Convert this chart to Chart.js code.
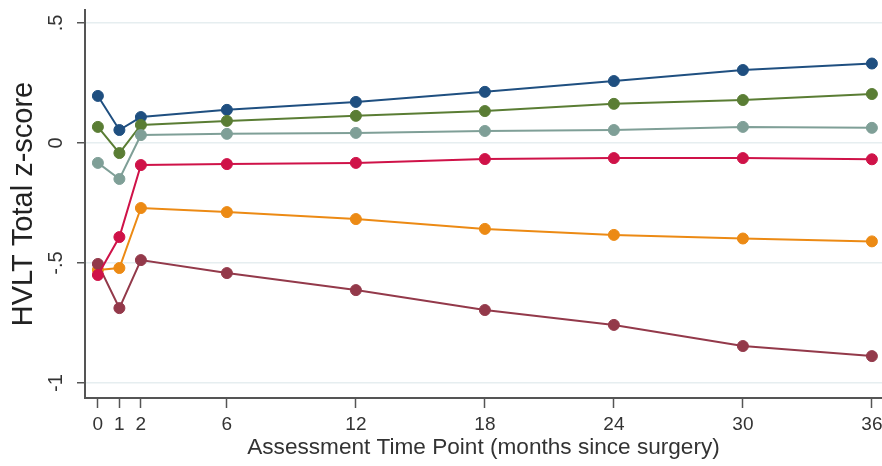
<!DOCTYPE html>
<html>
<head>
<meta charset="utf-8">
<script src="https://cdn.jsdelivr.net/npm/chart.js@4"></script>
<style>
  html, body { margin: 0; padding: 0; background: #fff; }
  #wrap { width: 882px; height: 466px; }
</style>
</head>
<body>
<div id="wrap"><canvas id="chart"></canvas></div>
<script>
// months since surgery
const months = [0, 1, 2, 6, 12, 18, 24, 30, 36];
const xTicks = [0, 1, 2, 6, 12, 18, 24, 30, 36];
const yTicks = [-1, -0.5, 0, 0.5];
const yTickLabels = ["-1", "-.5", "0", ".5"];

// HVLT z-score per group
const seriesBlue   = [0.196, 0.054, 0.108, 0.138, 0.171, 0.213, 0.258, 0.304, 0.331];
const seriesGreen  = [0.067, -0.042, 0.075, 0.092, 0.113, 0.133, 0.163, 0.179, 0.204];
const seriesTeal   = [-0.083, -0.150, 0.033, 0.038, 0.042, 0.050, 0.054, 0.067, 0.063];
const seriesRed    = [-0.550, -0.392, -0.092, -0.088, -0.083, -0.067, -0.063, -0.063, -0.068];
const seriesOrange = [-0.529, -0.521, -0.271, -0.288, -0.317, -0.358, -0.383, -0.398, -0.410];
const seriesMaroon = [-0.504, -0.688, -0.488, -0.542, -0.613, -0.696, -0.758, -0.846, -0.888];

const font = "'Liberation Sans', Arial, sans-serif";
const axisColor = "#555555";
const textColor = "#333333";

function makeSet(values, color) {
    return {
        data: months.map((m, i) => ({ x: m, y: values[i] })),
        borderColor: color,
        backgroundColor: color,
        borderWidth: 2,
        pointRadius: 5.5,
        pointHoverRadius: 5.5,
        pointBorderWidth: 1
    };
}

// tick labels drawn by hand: Stata rotates the y ones
const tickLabelPlugin = {
    id: "tickLabels",
    afterDraw(chart) {
        const ctx = chart.ctx;
        const y = chart.scales.y;
        const x = chart.scales.x;
        ctx.save();
        ctx.fillStyle = textColor;
        ctx.textAlign = "center";
        ctx.textBaseline = "middle";

        ctx.font = "20px " + font;
        yTicks.forEach((v, i) => {
            ctx.save();
            ctx.translate(56, y.getPixelForValue(v));
            ctx.rotate(-Math.PI / 2);
            ctx.fillText(yTickLabels[i], 0, 0);
            ctx.restore();
        });

        ctx.font = "19px " + font;
        xTicks.forEach(v => {
            ctx.fillText(String(v), x.getPixelForValue(v), 425);
        });
        ctx.restore();
    }
};

new Chart(document.getElementById("chart"), {
    type: "line",
    data: {
        datasets: [
            makeSet(seriesRed, "#cf1248"),
            makeSet(seriesMaroon, "#93394a"),
            makeSet(seriesOrange, "#ec8a14"),
            makeSet(seriesTeal, "#7f9f97"),
            makeSet(seriesGreen, "#5a7d34"),
            makeSet(seriesBlue, "#1f4f80")
        ]
    },
    options: {
        responsive: true,
        maintainAspectRatio: false,
        animation: false,
        clip: false,
        layout: { autoPadding: false, padding: { top: 10, right: 0, left: 0, bottom: 0 } },
        plugins: {
            legend: { display: false },
            tooltip: { enabled: false }
        },
        scales: {
            x: {
                type: "linear",
                min: -0.6,
                max: 36.47,
                afterBuildTicks: (s) => { s.ticks = xTicks.map(v => ({ value: v })); },
                afterFit: (s) => { s.height = 68; },
                grid: { drawOnChartArea: false, drawTicks: true, tickLength: 10, tickColor: axisColor, tickWidth: 1.5 },
                border: { color: axisColor, width: 2 },
                ticks: { display: false },
                title: {
                    display: true,
                    text: "Assessment Time Point (months since surgery)",
                    color: textColor,
                    font: { family: font, size: 22.6 },
                    padding: { top: 0, bottom: 5 }
                }
            },
            y: {
                type: "linear",
                min: -1.0625,
                max: 0.554,
                afterBuildTicks: (s) => { s.ticks = yTicks.map(v => ({ value: v })); },
                afterFit: (s) => { s.width = 85; },
                grid: { color: "#e6eef0", lineWidth: 1.5, drawTicks: true, tickLength: 8, tickColor: axisColor, tickWidth: 1.5 },
                border: { color: axisColor, width: 2 },
                ticks: { display: false },
                title: {
                    display: true,
                    text: "HVLT Total z-score",
                    color: "#222",
                    font: { family: font, size: 29 },
                    padding: { top: 7, bottom: 0 }
                }
            }
        }
    },
    plugins: [tickLabelPlugin]
});
</script>
</body>
</html>
